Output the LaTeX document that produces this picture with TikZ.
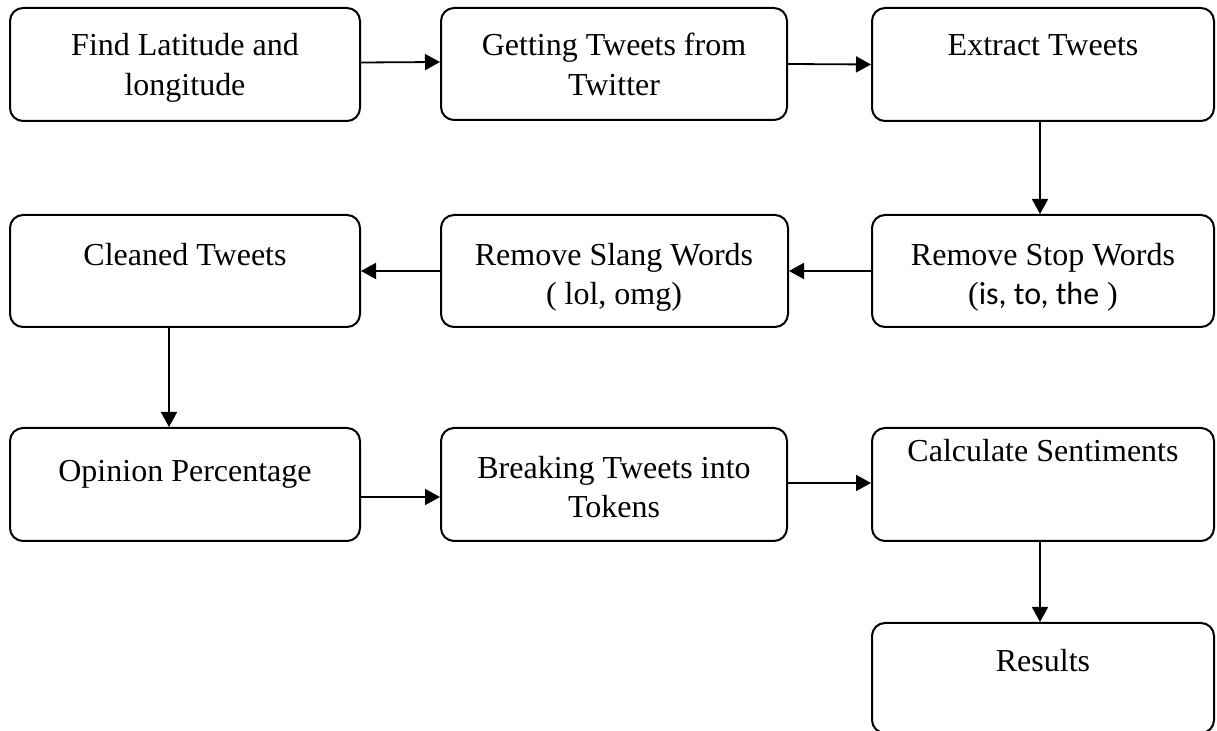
\documentclass[tikz,border=0pt]{standalone}
\usepackage{fontspec}
\setmainfont{Liberation Serif}
\newfontfamily\calibrifont{Carlito}
\usetikzlibrary{arrows.meta}
\tikzset{
  box/.style={draw=black, line width=1pt, rounded corners=6.5pt, inner sep=0pt},
  lbl/.style={anchor=base, inner sep=0pt, font=\fontsize{16}{19}\selectfont},
  arr/.style={line width=0.9pt, -{Triangle[length=7.5pt,width=8pt]}}
}
\begin{document}
\begin{tikzpicture}[x=0.5pt,y=-0.5pt]
\useasboundingbox (0,0) rectangle (1217,731);
% row 1
\node[box, minimum width=175pt, minimum height=56.5pt] (a1) at (185,64.5) {};
\node[box, minimum width=173pt, minimum height=56pt] (a2) at (614,64) {};
\node[box, minimum width=171pt, minimum height=56.5pt] (a3) at (1043,64.5) {};
% row 2
\node[box, minimum width=175pt, minimum height=56pt] (b1) at (185,271) {};
\node[box, minimum width=173.5pt, minimum height=56pt] (b2) at (614.5,271) {};
\node[box, minimum width=171pt, minimum height=56pt] (b3) at (1043,271) {};
% row 3
\node[box, minimum width=175pt, minimum height=56.5pt] (c1) at (185,484.5) {};
\node[box, minimum width=173pt, minimum height=56.5pt] (c2) at (614,484.5) {};
\node[box, minimum width=171pt, minimum height=56.5pt] (c3) at (1043,484.5) {};
% results
\node[box, minimum width=171pt, minimum height=55pt] (d3) at (1043,678) {};
% texts
\node[lbl] (t1a) at (185,56) {Find Latitude and};
\node[lbl] (t1b) at (185,96) {longitude};
\node[lbl] (t2a) at (614,56) {Getting Tweets from};
\node[lbl] (t2b) at (614,96) {Twitter};
\node[lbl] (t3a) at (1043,56) {Extract Tweets};
\node[lbl] (t4a) at (185,266) {Cleaned Tweets};
\node[lbl] (t5a) at (614,266) {Remove Slang Words};
\node[lbl] (t5b) at (614,305) {( lol, omg)};
\node[lbl] (t6a) at (1043,266) {Remove Stop Words};
\node[lbl] (t6b) at (1043,305) {({\calibrifont is, to, the} )};
\node[lbl] (t7a) at (185,482) {Opinion Percentage};
\node[lbl] (t8a) at (614,479) {Breaking Tweets into};
\node[lbl] (t8b) at (614,518) {Tokens};
\node[lbl] (t9a) at (1043,462) {Calculate Sentiments};
\node[lbl] (t10a) at (1043,672) {Results};
% connectors
\draw[arr] ([yshift=1pt]a1.east) -- ([yshift=1pt]a2.west);
\draw[arr] (a2.east) -- (a3.west);
\draw[arr] ([xshift=-1.5pt]a3.south) -- ([xshift=-1.5pt]b3.north);
\draw[arr] (b3.west) -- (b2.east);
\draw[arr] (b2.west) -- (b1.east);
\draw[arr] ([xshift=-8pt]b1.south) -- ([xshift=-8pt]c1.north);
\draw[arr] ([yshift=-6.25pt]c1.east) -- ([yshift=-6.25pt]c2.west);
\draw[arr] ([yshift=0.75pt]c2.east) -- ([yshift=0.75pt]c3.west);
\draw[arr] ([xshift=-1.5pt]c3.south) -- ([xshift=-1.5pt]d3.north);
\end{tikzpicture}
\end{document}
